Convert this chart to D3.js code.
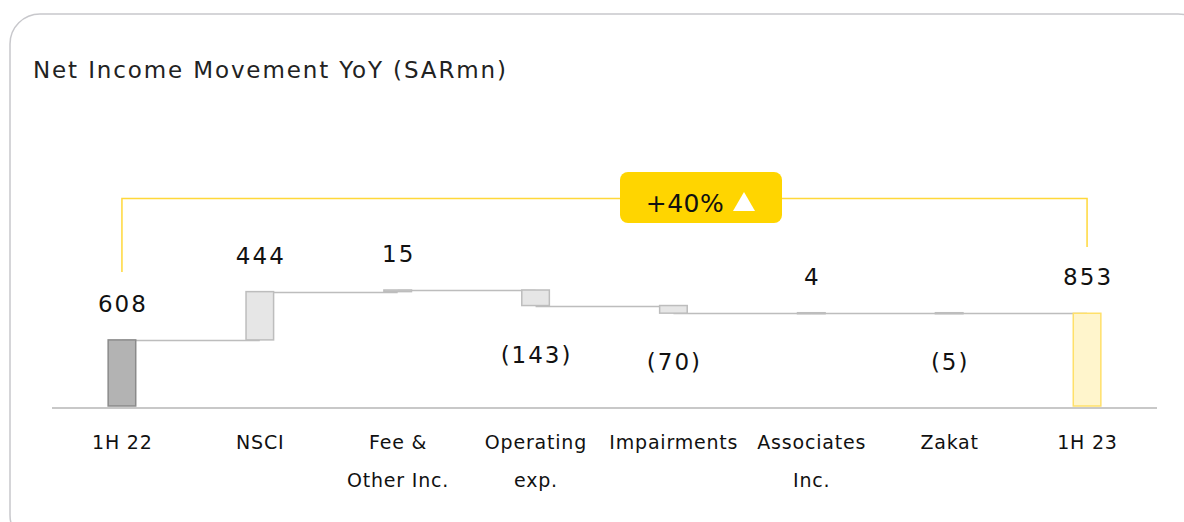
<!DOCTYPE html>
<html>
<head>
<meta charset="utf-8">
<script src="https://cdn.jsdelivr.net/npm/d3@7"></script>
<style>
  body { margin: 0; background: #fff; }
  svg { display: block; font-family: "DejaVu Sans", "Noto Sans", sans-serif; }
</style>
</head>
<body>
<svg id="chart" width="1184" height="522"></svg>
<script>
// waterfall data
const categories = ['1H 22', 'NSCI', 'Fee &\nOther Inc.', 'Operating\nexp.', 'Impairments', 'Associates\nInc.', 'Zakat', '1H 23']
const values = [608, 444, 15, -143, -70, 4, -5, 853]
const kinds = ['total', 'delta', 'delta', 'delta', 'delta', 'delta', 'delta', 'total']
const changeLabel = '+40%'

const svg = d3.select('#chart')

// card frame
svg.append('rect')
  .attr('x', 10).attr('y', 14)
  .attr('width', 1198).attr('height', 531)
  .attr('rx', 30)
  .attr('fill', 'none')
  .attr('stroke', '#c8c8cc')
  .attr('stroke-width', 1.5)

svg.append('text')
  .attr('x', 33).attr('y', 78)
  .attr('font-size', 23)
  .attr('fill', '#222')
  .attr('textLength', 473)
  .attr('lengthAdjust', 'spacing')
  .text('Net Income Movement YoY (SARmn)')

// compute running totals
let run = 0
const steps = values.map((v, i) => {
  let y0, y1
  if (kinds[i] === 'total') {
    y0 = 0; y1 = v; run = v
  } else {
    y0 = run; y1 = run + v; run = y1
  }
  return {cat: categories[i], v, kind: kinds[i], y0, y1, i}
})

const x = d3.scaleBand()
  .domain(categories)
  .range([53, 1156])
  .paddingInner(0.8)
  .paddingOuter(0.4)

const y = d3.scaleLinear()
  .domain([0, 1067])
  .range([406, 290])

const cx = (d) => x(d.cat) + x.bandwidth() / 2
const g = svg.append('g')

// connectors
steps.slice(0, -1).forEach((d, i) => {
  let next = steps[i + 1]
  g.append('line')
    .attr('x1', cx(d))
    .attr('x2', cx(next))
    .attr('y1', Math.round(y(d.y1)) + 0.5)
    .attr('y2', Math.round(y(d.y1)) + 0.5)
    .attr('stroke', '#bdbdbd')
    .attr('stroke-width', 1.5)
})

const fillOf = (d) => d.kind === 'total' ? (d.i === 0 ? '#b3b3b3' : '#fff5cc') : '#e6e6e6'
const strokeOf = (d) => d.kind === 'total' ? (d.i === 0 ? '#8a8a8a' : '#ffe06a') : '#bdbdbd'

g.selectAll('.bar')
  .data(steps)
  .enter()
  .append('rect')
  .attr('class', 'bar')
  .attr('x', (d) => x(d.cat))
  .attr('width', x.bandwidth())
  .attr('y', (d) => y(Math.max(d.y0, d.y1)))
  .attr('height', (d) => Math.max(1, Math.abs(y(d.y0) - y(d.y1))))
  .attr('fill', fillOf)
  .attr('stroke', strokeOf)
  .attr('stroke-width', 1.5)

// baseline
svg.append('line')
  .attr('x1', 52).attr('x2', 1157)
  .attr('y1', 408).attr('y2', 408)
  .attr('stroke', '#c8c8c8')
  .attr('stroke-width', 2)

// value labels
g.selectAll('.val')
  .data(steps)
  .enter()
  .append('text')
  .attr('class', 'val')
  .attr('x', (d) => cx(d) + 1)
  .attr('y', (d) => d.v >= 0 ? y(Math.max(d.y0, d.y1)) - 28 : y(Math.min(d.y0, d.y1)) + 57)
  .attr('text-anchor', 'middle')
  .attr('font-size', 23)
  .attr('letter-spacing', 2)
  .attr('fill', '#111')
  .text((d) => d.v >= 0 ? d.v : '(' + Math.abs(d.v) + ')')

// category labels
g.selectAll('.cat')
  .data(steps)
  .enter()
  .append('text')
  .attr('class', 'cat')
  .attr('y', 449)
  .attr('text-anchor', 'middle')
  .attr('font-size', 19)
  .attr('letter-spacing', 0.8)
  .attr('fill', '#111')
  .each(function (d) {
    d3.select(this).selectAll('tspan')
      .data(d.cat.split('\n'))
      .enter()
      .append('tspan')
      .attr('x', cx(d) + 0.4)
      .attr('dy', (t, k) => k === 0 ? 0 : 38)
      .text((t) => t)
  })

// YoY bracket
const xa = cx(steps[0])
const xb = cx(steps[steps.length - 1])
svg.append('path')
  .attr('d', `M${xa},272 V198.5 H${xb} V247`)
  .attr('fill', 'none')
  .attr('stroke', '#ffd83a')
  .attr('stroke-width', 1.5)

svg.append('rect')
  .attr('x', 620).attr('y', 172)
  .attr('width', 162).attr('height', 51)
  .attr('rx', 8)
  .attr('fill', '#ffd500')

svg.append('text')
  .attr('x', 685).attr('y', 212)
  .attr('text-anchor', 'middle')
  .attr('font-size', 25)
  .attr('letter-spacing', 0.5)
  .attr('fill', '#111')
  .text(changeLabel)

svg.append('path')
  .attr('d', 'M744,192 L755,211 L733,211 Z')
  .attr('fill', '#fff')
</script>
</body>
</html>
